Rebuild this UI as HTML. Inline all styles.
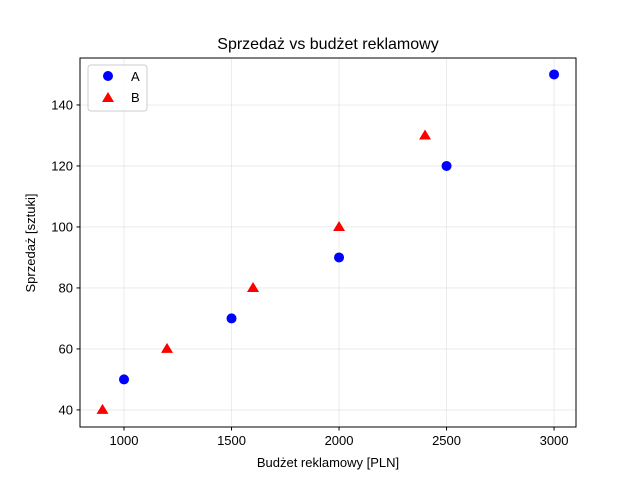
<!DOCTYPE html>
<html><head><meta charset="utf-8"><style>
body{margin:0;background:#fff}
svg{display:block;font-family:"Liberation Sans","DejaVu Sans",sans-serif}
</style></head><body>
<svg id="chart" width="640" height="480">
<rect width="640" height="480" fill="#fff"/>
<g id="grid"></g>
<g id="marks"></g>
<rect x="80" y="58" width="496" height="369" fill="none" stroke="#000" stroke-width="1"/>
<g id="ticks"></g>
<text x="328" y="49" text-anchor="middle" font-size="16">Sprzedaż vs budżet reklamowy</text>
<text x="328" y="467" text-anchor="middle" font-size="13">Budżet reklamowy [PLN]</text>
<text transform="translate(35,243) rotate(-90)" text-anchor="middle" font-size="13">Sprzedaż [sztuki]</text>
<g>
<rect x="88" y="65" width="59" height="46" rx="3" fill="#fff" fill-opacity="0.8" stroke="#ccc"/>
<circle cx="108" cy="76" r="5" fill="#0000ff"/>
<text x="131" y="81" font-size="13">A</text>
<polygon points="108,92 114,102 102,102" fill="#ff0000"/>
<text x="131" y="102" font-size="13">B</text>
</g>
</svg>
<script>
const xTicks=[1000,1500,2000,2500,3000];
const yTicks=[40,60,80,100,120,140];
const aX=[1000,1500,2000,2500,3000];
const aY=[50,70,90,120,150];
const bX=[900,1200,1600,2000,2400];
const bY=[40,60,80,100,130];
const NS="http://www.w3.org/2000/svg";
const X0=80,X1=576,Y0=427,Y1=58,XMIN=795.3,XMAX=3102,YMIN=34.4,YMAX=155.4;
function sx(v){return X0+(v-XMIN)/(XMAX-XMIN)*(X1-X0);}
function sy(v){return Y0-(v-YMIN)/(YMAX-YMIN)*(Y0-Y1);}
function mk(t,a,p){const e=document.createElementNS(NS,t);for(const k in a)e.setAttribute(k,a[k]);p.appendChild(e);return e;}
const grid=document.getElementById('grid'),ticks=document.getElementById('ticks'),marks=document.getElementById('marks');
xTicks.forEach(v=>{const x=sx(v);
const g=mk('line',{x1:x,x2:x,y1:Y1,y2:Y0,stroke:'#b0b0b0','stroke-opacity':0.3,'stroke-width':0.8},grid);


const t=mk('line',{x1:x,x2:x,y1:Y0,y2:Y0+3.5,stroke:'#000'},ticks);


const l=mk('text',{x:x,y:Y0+18,'text-anchor':'middle','font-size':13},ticks);l.textContent=v;

});
yTicks.forEach(v=>{const y=sy(v);
const g=mk('line',{x1:X0,x2:X1,y1:y,y2:y,stroke:'#b0b0b0','stroke-opacity':0.3,'stroke-width':0.8},grid);


const t=mk('line',{x1:X0-3.5,x2:X0,y1:y,y2:y,stroke:'#000'},ticks);


const l=mk('text',{x:X0-7,y:y+4.5,'text-anchor':'end','font-size':13},ticks);l.textContent=v;

});
aX.forEach((v,i)=>{const c=mk('circle',{cx:sx(v),cy:sy(aY[i]),r:5,fill:'#0000ff'},marks);

});
bX.forEach((v,i)=>{const x=sx(v),y=sy(bY[i]);
const p=mk('polygon',{points:`${x},${y-6} ${x+6},${y+4} ${x-6},${y+4}`,fill:'#ff0000'},marks);

});
</script>
</body></html>
